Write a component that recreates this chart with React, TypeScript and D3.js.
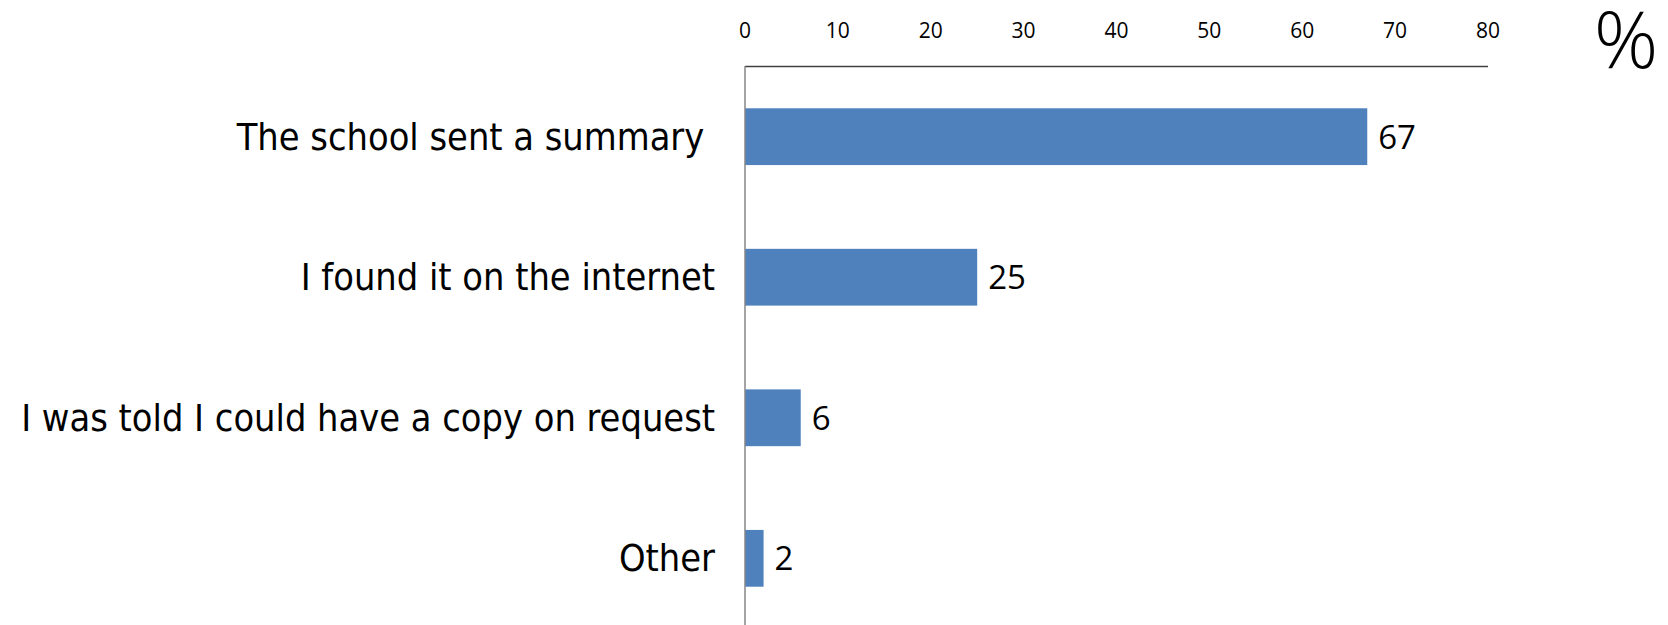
import React from "react";
import * as d3 from "d3";

const categories = [
  "The school sent a summary ",
  "I found it on the internet",
  "I was told I could have a copy on request",
  "Other",
];
const values = [67, 25, 6, 2];
const tickValues = [0, 10, 20, 30, 40, 50, 60, 70, 80];

const W = 1668;
const H = 625;
const FONT = "'Open Sans', 'DejaVu Sans', sans-serif";
const LABEL_FONT = "'DejaVu Sans Condensed', 'Open Sans', sans-serif";

export default function App() {
  const x = d3.scaleLinear().domain([0, 80]).range([745, 1488]);
  const y = d3
    .scaleBand<string>()
    .domain(categories)
    .range([66.4, 628.6])
    .paddingInner(0.596)
    .paddingOuter(0.298);
  const x0 = x(0);
  const bw = y.bandwidth();

  return (
    <svg
      width={W}
      height={H}
      style={{ position: "absolute", left: 0, top: 0, background: "#fff" }}
      fontFamily={FONT}
    >
      <rect x={0} y={0} width={W} height={H} fill="#ffffff" />
      {tickValues.map((t) => (
        <text key={t} x={x(t)} y={38.3} fontSize={21} textAnchor="middle" fill="#000">
          {t}
        </text>
      ))}
      <text x={1626} y={68} fontSize={80} textAnchor="middle" fill="#000" fontWeight={300}>
        %
      </text>
      {categories.map((c, i) => (
        <rect key={c} x={x0} y={y(c)!} width={x(values[i]) - x0} height={bw} fill="#4F81BD" />
      ))}
      <line x1={x0} x2={x(80)} y1={66.5} y2={66.5} stroke="#404040" strokeWidth={1.3} />
      <line x1={x0} x2={x0} y1={66} y2={H} stroke="#868686" strokeWidth={1.5} />
      {categories.map((c) => (
        <text
          key={c}
          x={715}
          y={y(c)! + bw / 2 + 13}
          fontSize={37.6}
          fontFamily={LABEL_FONT}
          textAnchor="end"
          fill="#000"
          style={{ whiteSpace: "pre" }}
        >
          {c}
        </text>
      ))}
      {categories.map((c, i) => (
        <text key={c} x={x(values[i]) + 11} y={y(c)! + bw / 2 + 12} fontSize={33} fill="#000">
          {values[i]}
        </text>
      ))}
    </svg>
  );
}
